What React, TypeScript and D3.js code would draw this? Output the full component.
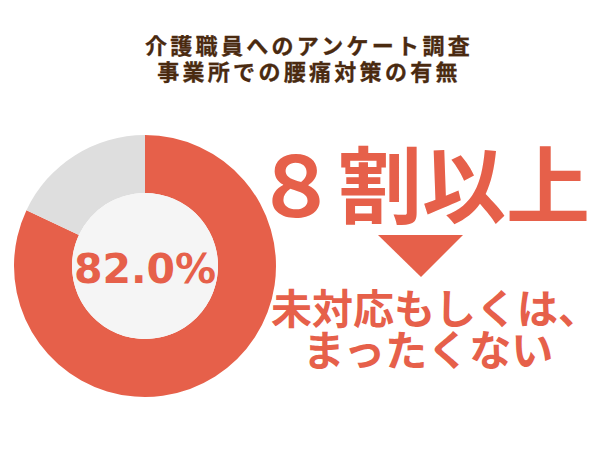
import React from "react";
import * as d3 from "d3";

const titleLines = ["介護職員へのアンケート調査", "事業所での腰痛対策の有無"];
const categories = ["未対応もしくは、まったくない", "対応あり"];
const values = [82.0, 18.0];
const centerLabel = "82.0%";
const headline = "８割以上";
const subLines = ["未対応もしくは、", "まったくない"];

const W = 600;
const H = 450;
const RED = "#e6604a";
const GREY = "#dedede";
const INNER = "#f5f5f5";
const BROWN = "#4a2a10";
const JP = "'Noto Sans CJK JP', 'Noto Sans', sans-serif";

export default function App() {
  const cx = 145;
  const cy = 266;
  const outerR = 131;
  const innerR = 73;
  const pie = d3
    .pie<number>()
    .sort(null)
    .value((d) => d);
  const arcs = pie(values);
  const arcGen = d3.arc<d3.PieArcDatum<number>>().innerRadius(innerR).outerRadius(outerR);
  const colors = [RED, GREY];

  return (
    <svg width={W} height={H} style={{ display: "block", margin: -8 }}>
      <rect width={W} height={H} fill="#ffffff" />
      {titleLines.map((t, i) => (
        <text
          key={i}
          x={309}
          y={54 + i * 26}
          textAnchor="middle"
          fontFamily={JP}
          fontWeight={700}
          fontSize={22}
          letterSpacing={3.3}
          fill={BROWN}
          stroke={BROWN}
          strokeWidth={0.3}
        >
          {t}
        </text>
      ))}
      <g transform={`translate(${cx},${cy})`}>
        {arcs.map((a, i) => (
          <path key={categories[i]} d={arcGen(a) || ""} fill={colors[i]} />
        ))}
        <circle r={innerR} fill={INNER} />
        <text
          x={0}
          y={17}
          textAnchor="middle"
          fontFamily="'DejaVu Sans', Verdana, sans-serif"
          fontWeight={700}
          fontSize={41}
          fill={RED}
        >
          {centerLabel}
        </text>
      </g>
      <text
        x={422}
        y={217}
        textAnchor="middle"
        fontFamily={JP}
        fontWeight={700}
        fontSize={84}
        fill={RED}
      >
        {headline}
      </text>
      <path d="M378,235 L463,235 L421,277 Z" fill={RED} />
      <text
        x={271}
        y={324}
        textAnchor="start"
        fontFamily={JP}
        fontWeight={700}
        fontSize={41}
        fill={RED}
      >
        {subLines[0]}
      </text>
      <text
        x={428}
        y={366}
        textAnchor="middle"
        fontFamily={JP}
        fontWeight={700}
        fontSize={42}
        fill={RED}
      >
        {subLines[1]}
      </text>
    </svg>
  );
}
